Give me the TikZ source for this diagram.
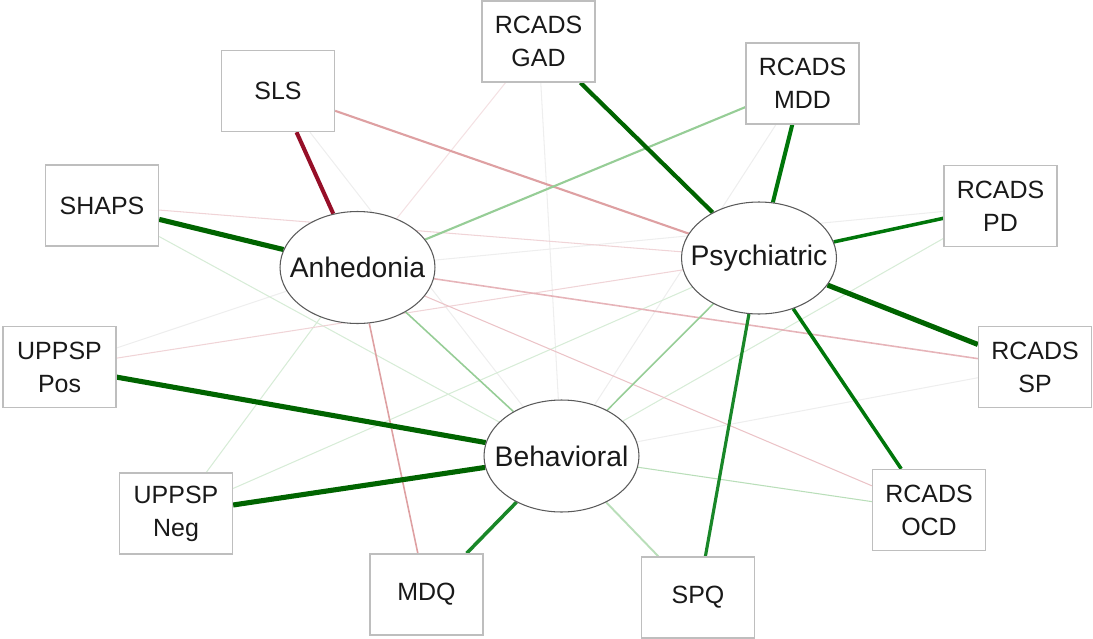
\documentclass[tikz,border=0pt]{standalone}
\usepackage{fontspec}
\setmainfont{Liberation Sans}
\usetikzlibrary{shapes.geometric}
\pgfdeclarelayer{edgelayer}
\pgfsetlayers{edgelayer,main}
\definecolor{dgreen}{RGB}{0,100,0}
\definecolor{mgreen}{RGB}{0,118,10}
\definecolor{sgreen}{RGB}{25,135,40}
\definecolor{dred}{RGB}{150,15,40}
\definecolor{pinkA}{RGB}{222,160,162}
\definecolor{pinkB}{RGB}{230,180,185}
\definecolor{pinkC}{RGB}{240,212,215}
\definecolor{lgreenA}{RGB}{150,205,150}
\definecolor{lgreenB}{RGB}{185,222,185}
\definecolor{lgreenC}{RGB}{215,236,215}
\definecolor{vfaint}{RGB}{238,238,238}
\definecolor{boxgray}{RGB}{190,190,190}
\definecolor{ellgray}{RGB}{90,90,90}
\definecolor{txt}{RGB}{25,25,25}
\newcommand{\lvname}[1]{\makebox[0pt]{#1}}
\begin{document}
\begin{tikzpicture}[x=0.02cm,y=-0.02cm,
  lab/.style={font=\fontsize{14.2}{18.7}\selectfont, text=txt, align=center},
  mbox/.style={lab, draw=boxgray, line width=0.8pt, fill=white, minimum width=2.26cm, minimum height=1.62cm, inner sep=0pt},
  lat/.style={lab, font=\fontsize{16.1}{19}\selectfont, ellipse, draw=ellgray, line width=0.6pt, fill=white, minimum width=3.1cm, minimum height=2.24cm, inner sep=0pt},
  e/.style={line width=#1},
]
\useasboundingbox (0,0) rectangle (1093,639);
% nodes
\node[lat] (anh) at (357.5,267.5) {\lvname{Anhedonia}};
\node[lat] (psy) at (759,258) {\lvname{Psychiatric}};
\node[lat] (beh) at (561.5,456) {\lvname{Behavioral}};
\node[mbox] (sls) at (278,91) {SLS};
\node[mbox] (shaps) at (102,205.5) {SHAPS};
\node[mbox] (gad) at (538.5,41.5) {RCADS\\GAD};
\node[mbox] (mdd) at (802.5,83.5) {RCADS\\MDD};
\node[mbox] (pd) at (1000.5,206) {RCADS\\PD};
\node[mbox] (sp) at (1035,367) {RCADS\\SP};
\node[mbox] (ocd) at (929,510) {RCADS\\OCD};
\node[mbox] (spq) at (698,597.5) {SPQ};
\node[mbox] (mdq) at (426.5,594.5) {MDQ};
\node[mbox] (neg) at (176,513.5) {UPPSP\\Neg};
\node[mbox] (pos) at (59.5,367) {UPPSP\\Pos};
\begin{pgfonlayer}{edgelayer}
% very faint
\begin{scope}[line width=0.6pt, draw=vfaint]
  \draw (gad) -- (beh);
  \draw (mdd) -- (beh);
  \draw (pd) -- (anh);
  \draw (sp) -- (beh);
  \draw (sls) -- (beh);
  \draw (pos) -- (anh);
  \draw[draw=pinkC!70!white] (gad) -- (anh);
\end{scope}
% faint
\begin{scope}[line width=0.6pt]
  \draw[lgreenC] (shaps) -- (beh);
  \draw[lgreenC] (pd) -- (beh);
  \draw[lgreenC] (neg) -- (psy);
  \draw[lgreenC] (neg) -- (anh);
  \draw[pinkC] (shaps) -- (psy);
  \draw[pinkC] (pos) -- (psy);
  \draw[pinkB!80!white] (ocd) -- (anh);
  \draw[lgreenB] (beh) -- (ocd);
\end{scope}
% medium
\draw[pinkA, e=1.2pt] (sls) -- (psy);
\draw[lgreenA, e=1.2pt] (mdd) -- (anh);
\draw[pinkA, e=0.9pt] (mdq) -- (anh);
\draw[lgreenA, e=0.9pt] (anh) -- (beh);
\draw[pinkB, e=0.9pt] (sp) -- (anh);
\draw[lgreenA, e=0.9pt] (beh) -- (psy);
\draw[lgreenB, e=1.1pt] (beh) -- (spq);
% strong
\draw[dred, e=2.3pt] (sls) -- (anh);
\draw[dgreen, e=2.9pt] (shaps) -- (anh);
\draw[dgreen, e=2.4pt] (gad) -- (psy);
\draw[mgreen, e=2.3pt] (mdd) -- (psy);
\draw[mgreen, e=2.0pt] (pd) -- (psy);
\draw[dgreen, e=2.9pt] (sp) -- (psy);
\draw[mgreen, e=2.0pt] (ocd) -- (psy);
\draw[sgreen, e=1.8pt] (spq) -- (psy);
\draw[dgreen, e=2.9pt] (pos) -- (beh);
\draw[dgreen, e=2.9pt] (neg) -- (beh);
\draw[sgreen, e=2.0pt] (mdq) -- (beh);
\end{pgfonlayer}
\end{tikzpicture}
\end{document}
